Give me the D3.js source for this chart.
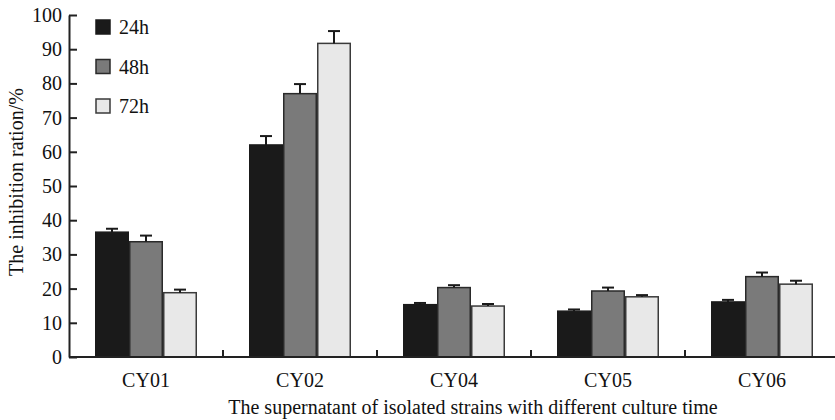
<!DOCTYPE html>
<html><head><meta charset="utf-8">
<script src="https://cdn.jsdelivr.net/npm/d3@7/dist/d3.min.js"></script>
<style>body{margin:0;background:#fff}svg{display:block}text{font-family:"Liberation Serif","Times New Roman",serif}</style>
</head><body><svg id="c" width="835" height="420"></svg>
<script>
const categories = ["CY01","CY02","CY04","CY05","CY06"];
const seriesNames = ["24h","48h","72h"];
const values24 = [36.5, 62.0, 15.3, 13.4, 16.1];
const values48 = [33.7, 77.0, 20.3, 19.3, 23.5];
const values72 = [18.8, 91.7, 14.9, 17.6, 21.3];
const err24 = [1.0, 2.6, 0.5, 0.5, 0.6];
const err48 = [1.8, 2.8, 0.7, 1.0, 1.2];
const err72 = [0.9, 3.6, 0.6, 0.5, 1.0];
const yTicks = [0,10,20,30,40,50,60,70,80,90,100];

const series = [values24, values48, values72];
const errs = [err24, err48, err72];
const fills = ["#1a1a1a","#7a7a7a","#e8e8e8"];
const strokes = ["#1a1a1a","#2a2a2a","#3a3a3a"];
const FS = 20;

const svg = d3.select("#c");
const x0 = 69, x1 = 839, yTop = 15, yBot = 357;
const x = d3.scaleBand().domain(categories).range([x0, x1]);
const xs = d3.scaleBand().domain(seriesNames).range([0, 102]);
const y = d3.scaleLinear().domain([0,100]).range([yBot, yTop]);
const bx = (i, si) => x(categories[i]) + x.bandwidth()/2 - 51 + xs(seriesNames[si]);

series.forEach((vals, si) => {
  const g = svg.append("g");
  g.selectAll("rect").data(vals).join("rect")
    .attr("x", (d,i) => bx(i, si) + 0.75)
    .attr("y", d => y(d))
    .attr("width", xs.bandwidth() - 1.5)
    .attr("height", d => yBot - y(d))
    .attr("fill", fills[si]).attr("stroke", strokes[si]).attr("stroke-width", 1.5);
  g.selectAll("line.e").data(vals).join("line").attr("class","e")
    .attr("x1", (d,i) => bx(i, si) + xs.bandwidth()/2)
    .attr("x2", (d,i) => bx(i, si) + xs.bandwidth()/2)
    .attr("y1", d => y(d)).attr("y2", (d,i) => y(d + errs[si][i]))
    .attr("stroke", "#1a1a1a").attr("stroke-width", 2);
  g.selectAll("line.c").data(vals).join("line").attr("class","c")
    .attr("x1", (d,i) => bx(i, si) + xs.bandwidth()/2 - 6)
    .attr("x2", (d,i) => bx(i, si) + xs.bandwidth()/2 + 6)
    .attr("y1", (d,i) => y(d + errs[si][i])).attr("y2", (d,i) => y(d + errs[si][i]))
    .attr("stroke", "#1a1a1a").attr("stroke-width", 2);
});

const yAxis = svg.append("g").attr("transform", `translate(${x0},0)`)
  .call(d3.axisLeft(y).tickValues(yTicks).tickSize(-8).tickPadding(7).tickSizeOuter(0));
yAxis.select(".domain").attr("stroke","#222").attr("stroke-width",2);
yAxis.selectAll(".tick line").attr("stroke","#222").attr("stroke-width",2);
yAxis.selectAll(".tick text").attr("font-size",FS).attr("fill","#111")
  .attr("font-family",'"Liberation Serif",serif');

svg.append("line").attr("x1",x0).attr("x2",835).attr("y1",yBot).attr("y2",yBot)
  .attr("stroke","#222").attr("stroke-width",2);
svg.append("g").selectAll("line").data(categories.slice(1)).join("line")
  .attr("x1", d => x(d)).attr("x2", d => x(d))
  .attr("y1", yBot).attr("y2", yBot - 7)
  .attr("stroke","#222").attr("stroke-width",2);
svg.append("g").selectAll("text").data(categories).join("text")
  .attr("x", d => x(d) + x.bandwidth()/2).attr("y", 387)
  .attr("text-anchor","middle").attr("font-size",FS).attr("fill","#111").text(d => d);

svg.append("text").attr("x", 473).attr("y", 414).attr("text-anchor","middle")
  .attr("font-size",FS).attr("fill","#111")
  .text("The supernatant of isolated strains with different culture time");
svg.append("text").attr("transform","translate(23,182) rotate(-90)").attr("text-anchor","middle")
  .attr("font-size",FS).attr("fill","#111").text("The inhibition ration/%");

const leg = svg.append("g").selectAll("g").data(seriesNames).join("g")
  .attr("transform", (d,i) => `translate(96,${20 + i*39.5})`);
leg.append("rect").attr("width",14).attr("height",14)
  .attr("fill",(d,i)=>fills[i]).attr("stroke",(d,i)=>strokes[i]).attr("stroke-width",1.5);
leg.append("text").attr("x",23).attr("y",14).attr("font-size",FS).attr("fill","#111").text(d=>d);
</script></body></html>
